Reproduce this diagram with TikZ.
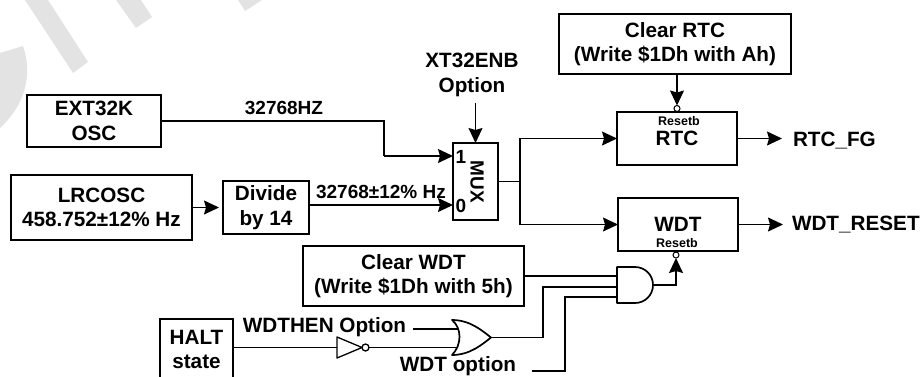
\documentclass[tikz,border=0pt]{standalone}
\usepackage{fontspec}
\setmainfont{Liberation Sans}
\usetikzlibrary{positioning,arrows.meta}

\begin{document}
\begin{tikzpicture}[x=1pt, y=-1pt, font=\fontsize{20.7}{24.5}\selectfont\bfseries,
        node distance=30pt, inner sep=0pt, outer sep=0pt, line width=1.3pt,
        wire/.style={-{Stealth[length=15pt,width=14pt,inset=2pt]}},
        block/.style={draw, align=center},
        note/.style={font=\fontsize{19}{24}\selectfont\bfseries},
        small/.style={font=\fontsize{12.5}{14}\selectfont\bfseries},
        bubble/.style={draw, circle, minimum size=6pt, line width=1pt},
        gate/.style={draw, line width=1.7pt, line join=round}]
        \useasboundingbox (0,0) rectangle (923,376);
        \fill[black!11] (25,0) -- (48,0) -- (88,62) -- (73,73) -- cycle;
        \fill[black!11] (116,0) -- (136,28) -- (152,17) -- (141,0) -- cycle;
        \fill[black!11] (238,0) -- (245,11) -- (262,0) -- cycle;
        \fill[black!11] (0,53) -- (23,46) .. controls (33,75) and (25,105) .. (0,128) -- cycle;
        \node[block, minimum width=134pt, minimum height=52pt] (ext) at (94,121) {EXT32K\\OSC};
        \node[block, minimum width=181pt, minimum height=65pt] (lrc) at (101.5,207.5) {LRCOSC\\458.752±12\% Hz};
        \node[block, minimum width=86pt, minimum height=53pt, right=31pt of lrc] (div) {Divide\\by 14};
        \node[block, minimum width=45pt, minimum height=77pt] (mux) at (475.5,181.5) {};
        \node[note, rotate=-90] (muxt) at (477,182) {MUX};
        \node[note] (in1) at (461,157) {1};
        \node[note] (in0) at (461,206) {0};
        \node[block, minimum width=232pt, minimum height=60pt] (clrrtc) at (675,44) {Clear RTC\\(Write \$1Dh with Ah)};
        \node[block, minimum width=120pt, minimum height=53pt] (rtc) at (677,138.5) {RTC};
        \node[block, minimum width=120pt, minimum height=53pt, below=33pt of rtc, xshift=1pt] (wdt) {WDT};
        \node[block, minimum width=221pt, minimum height=60pt] (clrwdt) at (413.5,276) {Clear WDT\\(Write \$1Dh with 5h)};
        \node[block, minimum width=73pt, minimum height=61pt] (halt) at (196.5,349.5) {HALT\\state};
        \node[small] (rtcr) at (679,121) {Resetb};
        \node[small] (wdtr) at (677,243) {Resetb};
        \node[bubble, above=0.5pt of rtc] (rtcb) {};
        \node[bubble, below=1pt of wdt, xshift=-2pt] (wdtb) {};
        \node[align=center] (xt) at (472,75) {XT32ENB\\Option};
        \node[note] (f1) at (284,108) {32768HZ};
        \node[note] (f2) at (381,192) {32768±12\% Hz};
        \node[right=45pt of rtc, yshift=-2.5pt, anchor=west, xshift=11pt] (rtcfg) {RTC\_FG};
        \node[right=44pt of wdt, anchor=west, xshift=10pt] (wdtrst) {WDT\_RESET};
        \node[] (wdthen) at (324.5,327) {WDTHEN Option};
        \node[] (wdtopt) at (458,366) {WDT option};
        \node[minimum width=25pt, minimum height=21pt] (inv) at (349.5,347.5) {};
        \node[bubble, minimum size=7pt, line width=1.3pt, right=0pt of inv] (invb) {};
        \node[minimum width=39pt, minimum height=35pt] (org) at (471.5,337.5) {};
        \node[minimum width=36pt, minimum height=36pt] (andg) at (635,285) {};
        \coordinate (mux1) at (mux.west |- in1);
        \coordinate (mux0) at (453,205);
        \coordinate (bend) at (384,156);
        \coordinate (muxj) at (520,181.5);
        \coordinate (xtend) at (475.5,103);
        \coordinate (thenend) at (413,329);
        \coordinate (optend) at (532,371);
        \coordinate (orin1) at (458,329);
        \coordinate (orin2) at (458,347.5);
        \coordinate (orup) at (543,337);
        \coordinate (optup) at (565,371);
        \coordinate (andi1) at (617,276);
        \coordinate (andi2) at (617,287);
        \coordinate (andi3) at (617,297);
        \draw[gate, line width=1.3pt] (inv.north west) -- (inv.east) -- (inv.south west) -- cycle;
        \draw[gate] (org.north west) .. controls +(10,8) and +(10,-10) .. (org.south west) .. controls +(18,0) and +(-9,7) .. (org.east) .. controls +(-9,-7) and +(18,0) .. cycle;
        \draw[gate] (andg.north west) -- (andg.north) .. controls +(10,0) and +(0,-10) .. (andg.east) .. controls +(0,10) and +(10,0) .. (andg.south) -- (andg.south west) -- cycle;
        \draw (ext.east) -| (bend);
        \draw[wire] (bend) -- (mux1 |- bend);
        \draw[wire, shorten >=4pt] (lrc) -- (div);
        \draw[wire] (mux0 -| div.east) -- (mux0);
        \draw[wire] (xtend) -- (mux.north);
        \draw (mux.east) -- (muxj);
        \draw[wire] (muxj) |- (rtc.west);
        \draw[wire] (muxj) |- (wdt.west);
        \draw[wire] (rtc.east) -- ++(45,0);
        \draw[wire] (wdt.east) -- ++(45,0);
        \draw[wire] (clrrtc.south -| rtcb) -- (rtcb);
        \draw[wire] (andg.east) -| (wdtb);
        \draw (clrwdt.east |- andi1) -- (andi1);
        \draw (org.east) -| (orup |- andi2) -- (andi2);
        \draw (optend) -- (optup) |- (andi3);
        \draw (thenend) -- (orin1);
        \draw (inv.west -| halt.east) -- (inv.west);
        \draw (invb) -- (orin2);
\end{tikzpicture}
\end{document}
